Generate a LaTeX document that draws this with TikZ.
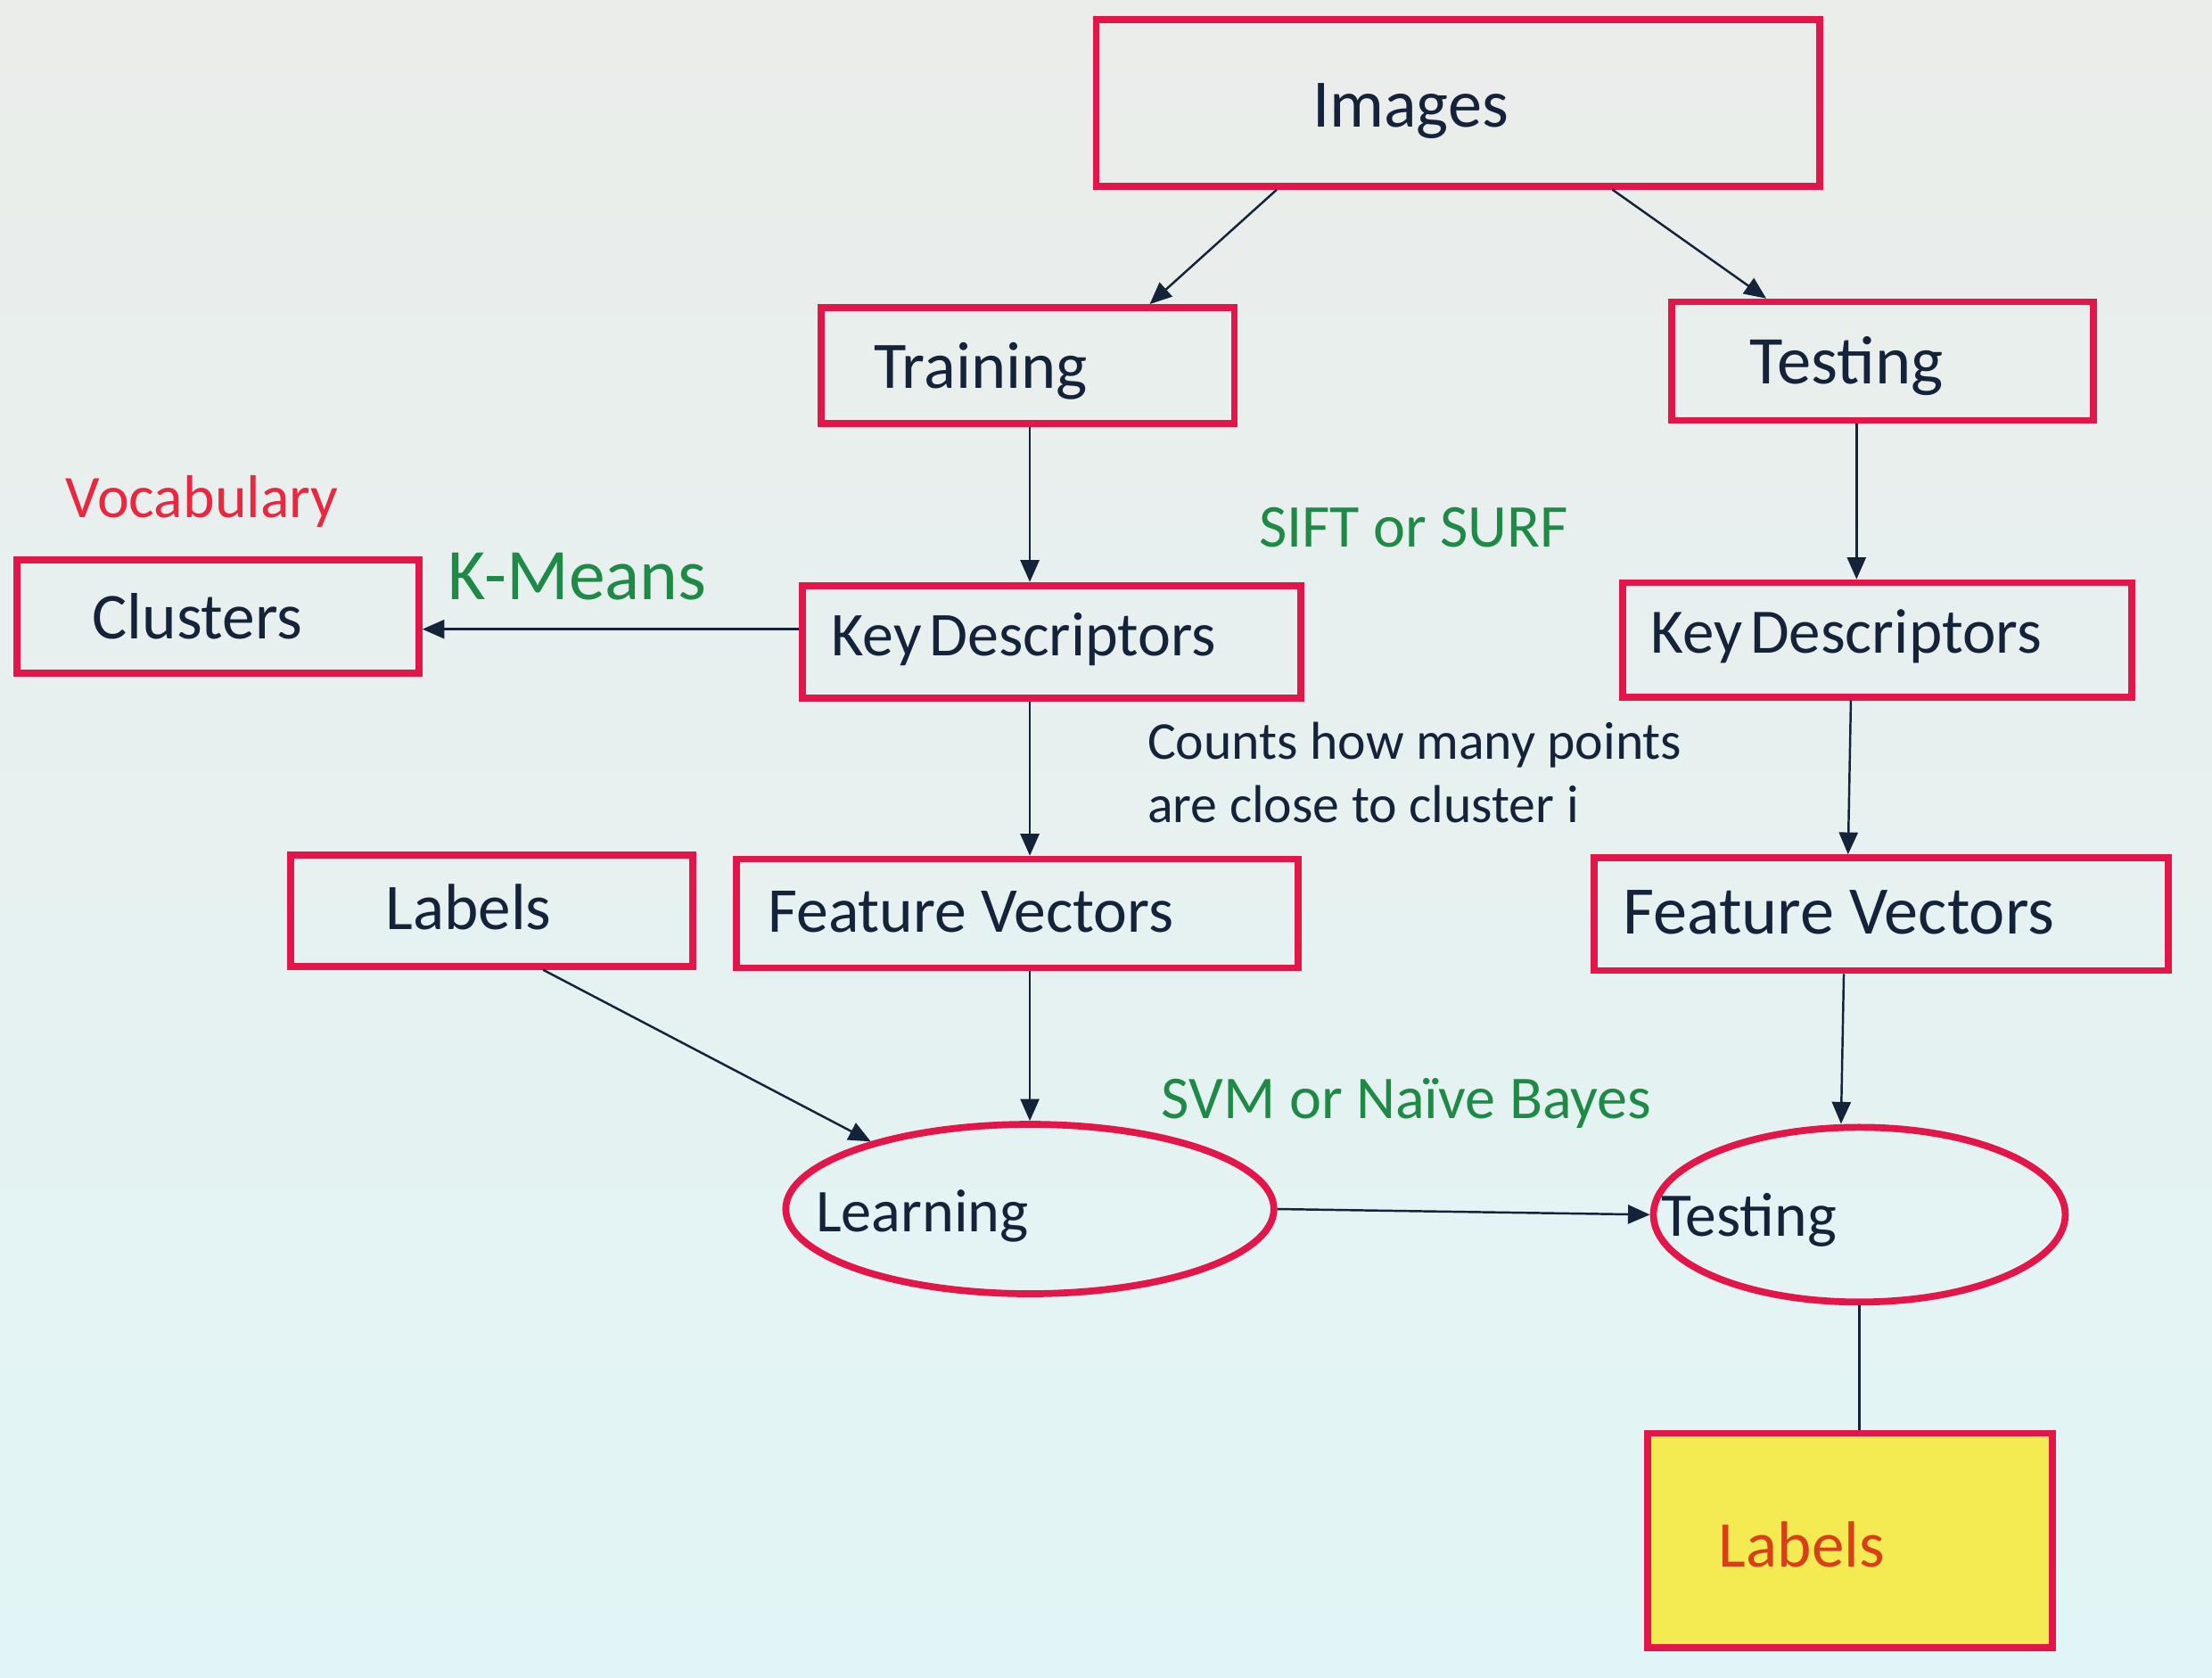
\documentclass[tikz,border=0pt]{standalone}
\usepackage{fontspec}
\setmainfont{Carlito}
\usetikzlibrary{shapes.geometric,arrows.meta,fit}
\definecolor{boxred}{HTML}{E3164A}
\definecolor{navy}{HTML}{14233A}
\definecolor{grn}{HTML}{1F8A45}
\definecolor{vocred}{HTML}{E8283F}
\definecolor{labred}{HTML}{D8401A}
\definecolor{yel}{HTML}{F4EA52}
\definecolor{bgtop}{HTML}{EAEDEA}
\definecolor{bgbot}{HTML}{E2F5F6}
\tikzset{
  box/.style={draw=boxred, line width=2.2pt, inner sep=0pt},
  oval/.style={draw=boxred, line width=2.2pt, ellipse, inner sep=0pt},
  txt/.style={text=navy, inner sep=0pt, anchor=base west, font=\fontsize{21}{25}\selectfont},
  arr/.style={draw=navy, line width=0.7pt, -{Triangle[length=7pt,width=6pt]}},
  plain/.style={draw=navy, line width=0.7pt},
}
\newcommand{\fs}[1]{\fontsize{#1}{#1}\selectfont}
\begin{document}
\begin{tikzpicture}[x=0.015823cm, y=-0.015823cm]
\shade[top color=bgtop, bottom color=bgbot] (0,0) rectangle (1568,1189);
\useasboundingbox (0,0) rectangle (1568,1189);
% boxes
\node[box, fit={(777,14) (1290,132)}] (img) {};
\node[box, fit={(582,218) (875,300)}] (train) {};
\node[box, fit={(1185,214) (1484,298)}] (test) {};
\node[box, fit={(12,397) (297,477)}] (clus) {};
\node[box, fit={(569,415) (922,495)}] (kdl) {};
\node[box, fit={(1150,413) (1511,494)}] (kdr) {};
\node[box, fit={(206,606) (491,685)}] (lab) {};
\node[box, fit={(522,609) (920,686)}] (fvl) {};
\node[box, fit={(1130,608) (1537,688)}] (fvr) {};
\node[oval, minimum width=5.475cm, minimum height=1.9cm] (learn) at (730,857) {};
\node[oval, minimum width=4.62cm, minimum height=1.96cm] (teste) at (1318,861) {};
\node[box, fill=yel, fit={(1168,1016) (1455,1168)}] (labs) {};
% texts
\node[txt, font=\fs{21.7}] (timg) at (930,90) {Images};
\node[txt, font=\fs{21.2}] (ttrain) at (619,275) {Training};
\node[txt, font=\fs{21.8}] (ttest) at (1240,272) {Testing};
\node[txt, font=\fs{20.9}] (tclus) at (65,453) {Clusters};
\node[txt, font=\fs{19.9}] (tkdl) at (589,465) {Key\hspace{0.12em}Descriptors};
\node[txt, font=\fs{20.2}] (tkdr) at (1170,463) {Key\hspace{0.12em}Descriptors};
\node[txt, font=\fs{20.8}] (tlab) at (273,659) {Labels};
\node[txt, font=\fs{20.4}] (tfvl) at (544,661) {Feature Vectors};
\node[txt, font=\fs{21.7}] (tfvr) at (1150,662) {Feature Vectors};
\node[txt, font=\fs{19.4}] (tlearn) at (578,873) {Learning};
\node[txt, font=\fs{19.8}] (tteste) at (1177,876) {Testing};
\node[txt, text=labred, font=\fs{20.8}] (tlabs) at (1218,1111) {Labels};
\node[txt, text=vocred, font=\fs{19.3}] (voc) at (46,367) {Vocabulary};
\node[txt, text=grn, font=\fs{23.2}] (km) at (317,425) {K-Means};
\node[txt, text=grn, font=\fs{19.4}] (sift) at (892,388) {SIFT or SURF};
\node[txt, text=grn, font=\fs{19.4}] (svm) at (823,793) {SVM or Naïve Bayes};
\node[txt, align=left, font=\fontsize{17}{20.3}\selectfont] (counts) at (813,583) {Counts how many points\\are close to cluster i};
% connectors
\draw[arr] (img.south -| 905,0) -- (train.north -| 815,0);
\draw[arr] (img.south -| 1143,0) -- (test.north -| 1252,0);
\draw[arr] (train.south -| 730,0) -- (kdl.north -| 730,0);
\draw[arr] (test.south -| 1316,0) -- (kdr.north -| 1316,0);
\draw[arr] (kdl.west |- 0,446) -- (clus.east |- 0,446);
\draw[arr] (kdl.south -| 730,0) -- (fvl.north -| 730,0);
\draw[arr] (kdr.south -| 1312,0) -- (fvr.north -| 1310,0);
\draw[arr] (lab.south -| 385,0) -- (learn.157);
\draw[arr] (fvl.south -| 730,0) -- (learn.north);
\draw[arr] (fvr.south -| 1307,0) -- (teste.north -| 1305,0);
\draw[arr] (learn.east) -- (teste.west);
\draw[plain] (teste.south) -- (labs.north -| teste.south);
\end{tikzpicture}
\end{document}
